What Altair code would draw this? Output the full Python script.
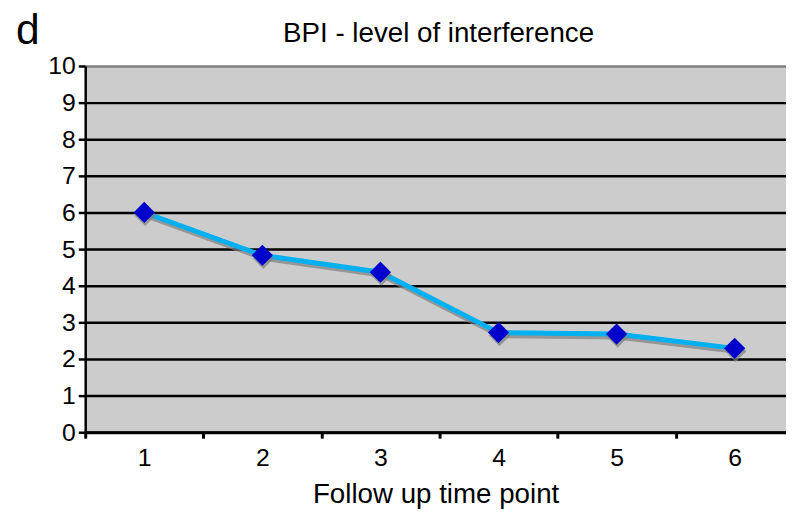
import altair as alt
import pandas as pd

# ---- data ----
time_points = [1, 2, 3, 4, 5, 6]
interference = [6.0, 4.83, 4.37, 2.72, 2.68, 2.29]
y_ticks = list(range(0, 11))
title_text = "BPI - level of interference"
x_title = "Follow up time point"
panel_label = "d"

df = pd.DataFrame({"t": time_points, "v": interference})

FONT = "Liberation Sans"
PLOT_W = 708
PLOT_H = 370
UNIT = 119.3
HALF = UNIT / 2
x_max = 0.5 + PLOT_W / UNIT

xscale = alt.Scale(domain=[0.5, x_max], nice=False, zero=False)
yscale = alt.Scale(domain=[0, 10], nice=False, zero=False)

xaxis = alt.Axis(
    values=time_points, format="d", tickOffset=-HALF, labelOffset=HALF,
    tickSize=6, tickWidth=3, tickColor="black",
    domainColor="black", domainWidth=3, grid=False,
    labelFont=FONT, labelFontSize=25, labelColor="black", labelPadding=28,
    labelBaseline="alphabetic",
    title=x_title, titleFont=FONT, titleFontSize=28, titleFontWeight="normal",
    titleColor="black", titleBaseline="alphabetic", titleY=71,
)
yaxis = alt.Axis(
    values=y_ticks, format="d", tickCount=11, labelOverlap=False,
    grid=True, gridWidth=2.5,
    gridColor=alt.condition("datum.value == 10", alt.value("#808080"), alt.value("black")),
    domainColor="black", domainWidth=2.5,
    tickSize=7, tickWidth=2.5, tickColor="black",
    labelFont=FONT, labelFontSize=25, labelColor="black", labelPadding=3,
    title=None,
)

base = alt.Chart(df).encode(
    x=alt.X("t:Q", scale=xscale, axis=xaxis),
    y=alt.Y("v:Q", scale=yscale, axis=yaxis),
)

shadow_line = base.mark_line(color="#7f7f7f", strokeWidth=5, opacity=0.7, xOffset=1, yOffset=3)
line = base.mark_line(color="#00b0f0", strokeWidth=5)
shadow_pts = base.mark_point(shape="diamond", filled=True, size=460, color="#7f7f7f",
                             opacity=0.7, xOffset=1, yOffset=3)
pts = base.mark_point(shape="diamond", filled=True, size=460, color="#0000cc", opacity=1)

label = alt.Chart(alt.Data(values=[{}])).mark_text(
    text=panel_label, font=FONT, fontSize=43, align="left", baseline="alphabetic", color="black"
).encode(x=alt.value(-70), y=alt.value(-22))

title = alt.Chart(alt.Data(values=[{}])).mark_text(
    text=title_text, font=FONT, fontSize=28, align="center", baseline="alphabetic", color="black"
).encode(x=alt.value(357), y=alt.value(-24))

chart = alt.layer(shadow_line, line, shadow_pts, pts, label, title).properties(
    width=PLOT_W, height=PLOT_H,
    padding={"left": 78, "top": 56, "right": 0, "bottom": 78},
    autosize=alt.AutoSizeParams(type="none"),
).configure_view(fill="#cccccc", stroke=None)

chart.save("out.html", embed_options={"renderer": "svg", "actions": False})
